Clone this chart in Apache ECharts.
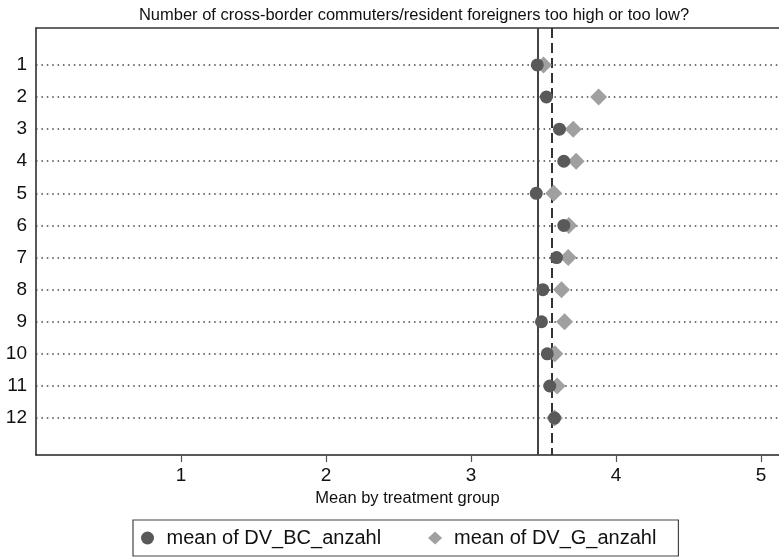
<!DOCTYPE html>
<html><head><meta charset="utf-8">
<script src="https://cdn.jsdelivr.net/npm/echarts@6/dist/echarts.min.js"></script>
<style>html,body{margin:0;padding:0;background:#fff}#c{width:779px;height:559px}</style>
</head><body><div id="c"></div>
<script>
const groups = [1,2,3,4,5,6,7,8,9,10,11,12];
const meanBC = [3.457,3.52,3.61,3.64,3.45,3.64,3.59,3.495,3.486,3.526,3.543,3.576];
const meanG  = [3.50,3.88,3.705,3.725,3.57,3.675,3.67,3.624,3.645,3.578,3.594,3.576];
const refSolid = 3.457;
const refDashed = 3.565;
const xTicks = [1,2,3,4,5];
const seriesNames = ['mean of DV_BC_anzahl','mean of DV_G_anzahl'];
const titleText = 'Number of cross-border commuters/resident foreigners too high or too low?';
const xTitle = 'Mean by treatment group';

const font = 'Liberation Sans, Arial, Helvetica, sans-serif';
const chart = echarts.init(document.getElementById('c'));
chart.setOption({
  animation:false,
  backgroundColor:'#fff',
  title:{text:titleText,left:409,top:2,textAlign:'center',
    textStyle:{fontFamily:font,fontSize:16.5,fontWeight:'normal',color:'#111'}},
  grid:{left:36,top:28,width:743,height:427,show:false},
  legend:{left:133,top:520,orient:'horizontal',padding:[8,22,8,8],itemGap:47,
    borderColor:'#444',borderWidth:1.2,itemWidth:14,itemHeight:13,
    textStyle:{fontFamily:font,fontSize:20,color:'#111',padding:[0,0,0,7]},
    data:[{name:seriesNames[0],icon:'circle'},{name:seriesNames[1],icon:'diamond',itemStyle:{color:'#a0a0a0'}}]},
  xAxis:[{type:'value',min:0,max:5.124,position:'bottom',
    name:xTitle,nameLocation:'middle',nameGap:35,
    nameTextStyle:{fontFamily:font,fontSize:16.5,color:'#111'},
    axisLine:{show:true,onZero:false,lineStyle:{color:'#222',width:1.5}},
    axisTick:{show:true,length:7,customValues:xTicks,lineStyle:{color:'#555',width:1.2}},
    axisLabel:{customValues:xTicks,fontFamily:font,fontSize:19,color:'#111',margin:11},
    splitLine:{show:false}},
   {type:'value',min:0,max:5.124,position:'top',
    axisLine:{show:true,onZero:false,lineStyle:{color:'#333',width:1.5}},
    axisTick:{show:false},axisLabel:{show:false},splitLine:{show:false}}],
  yAxis:{type:'value',min:-0.15,max:13.15,inverse:true,
    axisLine:{show:true,onZero:false,lineStyle:{color:'#222',width:1.5}},
    axisTick:{show:false},
    axisLabel:{customValues:groups,fontFamily:font,fontSize:19,color:'#111',margin:9},
    splitLine:{show:false}},
  series:[
    {name:seriesNames[0],type:'scatter',symbol:'circle',symbolSize:13,z:4,
      itemStyle:{color:'#595959',opacity:1},
      data:groups.map((g,i)=>[meanBC[i],g]),
      markLine:{silent:true,symbol:'none',label:{show:false},z:1,
        data:[
          ...groups.map(g=>({yAxis:g,lineStyle:{type:[1.5,3.9],color:'#444',width:1.6}})),
          {xAxis:refSolid,lineStyle:{type:'solid',color:'#444',width:2}},
          {xAxis:refDashed,lineStyle:{type:[10,5],color:'#333',width:2}}
        ]}},
    {name:seriesNames[1],type:'scatter',symbol:'diamond',symbolSize:[17,17],z:3,
      itemStyle:{color:'#a0a0a0',opacity:1},
      data:groups.map((g,i)=>[meanG[i],g])}
  ]
});
</script></body></html>
